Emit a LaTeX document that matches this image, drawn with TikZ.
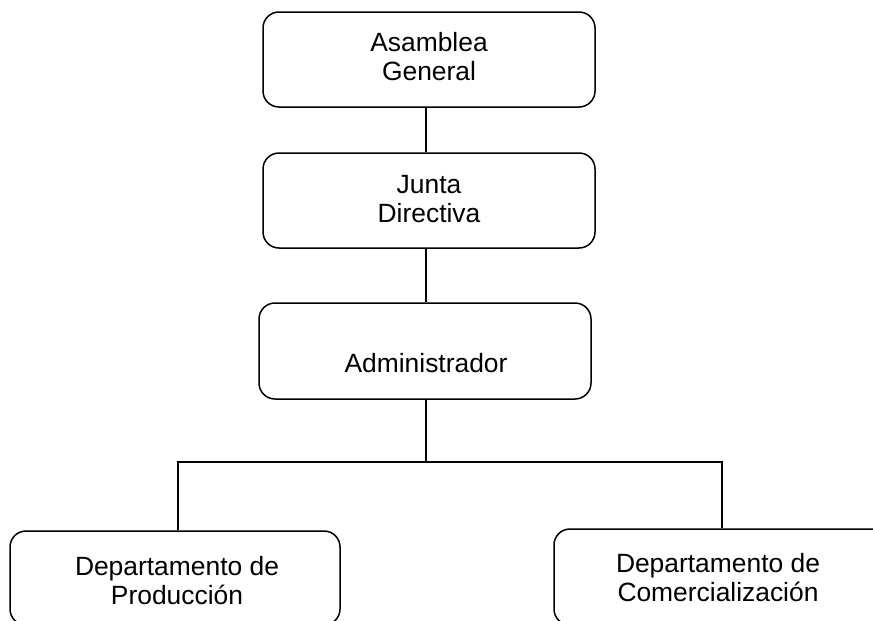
\documentclass[tikz,border=0pt]{standalone}
\usepackage{fontspec}
\setmainfont{Liberation Sans}
\begin{document}
\begin{tikzpicture}[x=1pt,y=-1pt,
  box/.style={draw=black,line width=1.5pt,rounded corners=16pt,rectangle,inner sep=0pt},
  lbl/.style={inner sep=0pt,align=center,font=\fontsize{26.4}{29}\selectfont},
  conn/.style={draw=black,line width=1.5pt}]
\useasboundingbox (0,0) rectangle (873,621);
\fill[white] (0,0) rectangle (873,621);
\begin{scope}
\clip (0,0) rectangle (873,621);
\node[box,minimum width=332pt,minimum height=95pt] (b1) at (429,59.5) {};
\node[box,minimum width=332pt,minimum height=95pt] (b2) at (429,200.5) {};
\node[box,minimum width=332pt,minimum height=96pt] (b3) at (425,351) {};
\node[box,minimum width=330pt,minimum height=94pt] (b4) at (175,578) {};
\node[box,minimum width=336pt,minimum height=96pt] (b5) at (722,577) {};
\node[lbl] (t1) at (429,57) {Asamblea\\General};
\node[lbl] (t2) at (429,199.5) {Junta\\Directiva};
\node[lbl] (t3) at (426,363.5) {Administrador};
\node[lbl] (t4) at (177,580.5) {Departamento de\\Producción};
\node[lbl] (t5) at (718,578) {Departamento de\\Comercialización};
\coordinate (vx) at (426,0);
\coordinate (j) at (426,462);
\draw[conn] (b1.south -| vx) -- (b2.north -| vx);
\draw[conn] (b2.south -| vx) -- (b3.north -| vx);
\draw[conn] (b3.south -| j) -- (j);
\draw[conn] ([xshift=3pt]b4.north) |- (j) -| (b5.north);
\end{scope}
\end{tikzpicture}
\end{document}
